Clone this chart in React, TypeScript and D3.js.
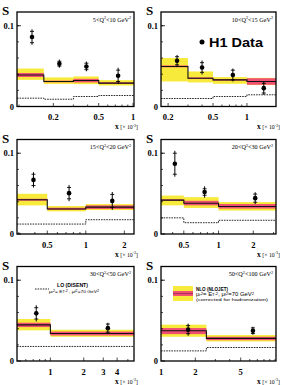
import * as d3 from 'd3'

// Q^2 ranges of the six panels
const qLo = [5, 10, 15, 20, 30, 50]
const qHi = [10, 15, 20, 30, 50, 100]

// x range [x 10^-3] shown in each panel, tick labels and bin edges
const xDomains = [[0.096, 1.02], [0.173, 1.81], [0.29, 2.38], [0.317, 3.15], [0.5, 5.68], [1, 10.2]]
const xTicks = [[0.2, 0.5, 1], [0.2, 0.5, 1], [0.5, 1, 2], [0.5, 1, 2], [1, 2, 3, 4], [1, 2, 5]]
const binEdges = [
  [0.096, 0.165, 0.3, 0.5, 1.02],
  [0.173, 0.3, 0.5, 1, 1.81],
  [0.29, 0.5, 1, 2.38],
  [0.317, 0.5, 1, 3.15],
  [0.5, 1, 5.68],
  [1, 2.5, 10.2],
]

// H1 data
const dataX = [[0.13, 0.226, 0.39, 0.74], [0.24, 0.4, 0.75, 1.41], [0.39, 0.74, 1.61], [0.418, 0.757, 2.08], [0.746, 3.3], [1.73, 6.4]]
const dataS = [[0.086, 0.053, 0.0496, 0.038], [0.0566, 0.0483, 0.039, 0.0227], [0.067, 0.0506, 0.041], [0.087, 0.052, 0.0444], [0.059, 0.0407], [0.0388, 0.0375]]
const dataTot = [[0.0095, 0.005, 0.006, 0.01], [0.0072, 0.0087, 0.008, 0.0083], [0.0095, 0.01, 0.011], [0.016, 0.007, 0.0073], [0.01, 0.0067], [0.0075, 0.005]]
const dataStat = [[0.007, 0.003, 0.004, 0.007], [0.005, 0.006, 0.006, 0.006], [0.007, 0.007, 0.008], [0.013, 0.004, 0.005], [0.007, 0.005], [0.005, 0.0035]]

// NLO (NLOJET) central, scale band (yellow), hadronisation band (red)
const nlo = [[0.039, 0.031, 0.0322, 0.0289], [0.0496, 0.035, 0.033, 0.031], [0.0424, 0.031, 0.0333], [0.042, 0.038, 0.034], [0.0447, 0.034], [0.0375, 0.028]]
const scaleLo = [[0.033, 0.028, 0.0277, 0.026], [0.031, 0.0298, 0.0281, 0.0265], [0.0354, 0.028, 0.0296], [0.0355, 0.0323, 0.029], [0.038, 0.03], [0.03, 0.0242]]
const scaleHi = [[0.047, 0.036, 0.0372, 0.0326], [0.06, 0.0434, 0.0364, 0.0355], [0.0498, 0.0346, 0.037], [0.0476, 0.0456, 0.0395], [0.052, 0.0387], [0.045, 0.0321]]
const hadLo = [[0.0365, 0.03, 0.0298, 0.028], [0.0485, 0.034, 0.032, 0.0269], [0.0412, 0.03, 0.031], [0.041, 0.0355, 0.0315], [0.042, 0.0316], [0.0333, 0.0258]]
const hadHi = [[0.0415, 0.032, 0.0343, 0.03], [0.0508, 0.036, 0.034, 0.035], [0.0436, 0.0325, 0.0354], [0.043, 0.0411, 0.0371], [0.0474, 0.0364], [0.0408, 0.03]]

// LO (DISENT)
const lo = [[0.0103, 0.009, 0.0124, 0.0136], [0.0099, 0.0099, 0.0124, 0.0145], [0.0123, 0.0123, 0.0177], [0.02, 0.014, 0.017], [0.018, 0.018], [0.0125, 0.0167]]

const yTicksMajor = [0, 0.1]
const yDomain = [0, 0.117]

const YELLOW = '#f7ea3b'
const RED = '#ef4f72'
const SERIF = '"Liberation Serif", "DejaVu Serif", serif'
const SANS = '"Liberation Sans", Arial, sans-serif'

const colX = [[17, 134], [161, 276]]
const rowZero = [106.5, 234, 361]
const plotH = 94.5

function stepPath(xs: d3.ScaleLogarithmic<number, number>, ys: d3.ScaleLinear<number, number>, edges: number[], vals: number[]) {
  let p = ''
  vals.forEach((v, i) => {
    const x0 = xs(edges[i]), x1 = xs(edges[i + 1]), y = ys(v)
    p += i === 0 ? `M${x0},${y}` : `L${x0},${y}`
    p += `L${x1},${y}`
  })
  return p
}

function Panel({ i }: { i: number }) {
  const [x0, x1] = colX[i % 2]
  const zero = rowZero[Math.floor(i / 2)]
  const top = zero - plotH
  const x = d3.scaleLog().domain(xDomains[i]).range([x0, x1])
  const y = d3.scaleLinear().domain(yDomain).range([zero, top])
  const edges = binEdges[i]

  const [d0, d1] = xDomains[i]
  const minor: number[] = []
  for (let k = Math.floor(Math.log10(d0)); k <= Math.ceil(Math.log10(d1)); k++) {
    for (let m = 1; m < 10; m++) {
      const v = m * Math.pow(10, k)
      if (v > d0 && v < d1) minor.push(v)
    }
  }
  const yMinor = d3.range(0.02, 0.117, 0.02)

  return (
    <g>
      {/* bands */}
      {nlo[i].map((_, b) => (
        <rect key={'y' + b} x={x(edges[b])} width={x(edges[b + 1]) - x(edges[b])}
          y={y(scaleHi[i][b])} height={y(scaleLo[i][b]) - y(scaleHi[i][b])} fill={YELLOW} />
      ))}
      {nlo[i].map((_, b) => (
        <rect key={'r' + b} x={x(edges[b])} width={x(edges[b + 1]) - x(edges[b])}
          y={y(hadHi[i][b])} height={y(hadLo[i][b]) - y(hadHi[i][b])} fill={RED} />
      ))}
      <path d={stepPath(x, y, edges, nlo[i])} fill="none" stroke="#111" strokeWidth={1.1} />
      <path d={stepPath(x, y, edges, lo[i])} fill="none" stroke="#111" strokeWidth={0.9} strokeDasharray="1.6,1" />

      {/* data */}
      {dataX[i].map((dx, k) => {
        const cx = x(dx)
        const s = dataS[i][k]
        return (
          <g key={'d' + k} stroke="#000">
            <line x1={cx} x2={cx} y1={y(s - dataTot[i][k])} y2={y(s + dataTot[i][k])} strokeWidth={1} />
            <line x1={cx - 2} x2={cx + 2} y1={y(s + dataStat[i][k])} y2={y(s + dataStat[i][k])} strokeWidth={0.9} />
            <line x1={cx - 2} x2={cx + 2} y1={y(s - dataStat[i][k])} y2={y(s - dataStat[i][k])} strokeWidth={0.9} />
            <circle cx={cx} cy={y(s)} r={2.3} fill="#000" stroke="none" />
          </g>
        )
      })}

      {/* frame + ticks */}
      <rect x={x0} y={top} width={x1 - x0} height={plotH} fill="none" stroke="#000" strokeWidth={1.3} />
      {minor.map(v => (
        <line key={'mx' + v} x1={x(v)} x2={x(v)} y1={zero} y2={zero - (xTicks[i].includes(v) ? 3.5 : 2)} stroke="#000" strokeWidth={0.7} />
      ))}
      {yMinor.map(v => (
        <line key={'my' + v} x1={x0} x2={x0 + 2} y1={y(v)} y2={y(v)} stroke="#000" strokeWidth={0.7} />
      ))}
      {yTicksMajor.map(v => (
        <g key={'Y' + v}>
          <line x1={x0} x2={x0 + 4} y1={y(v)} y2={y(v)} stroke="#000" strokeWidth={0.8} />
          <text x={x0 - 3} y={y(v) + 3} textAnchor="end" fontFamily={SERIF} fontWeight="bold" fontSize={8.5}>{v === 0 ? '0' : '0.1'}</text>
        </g>
      ))}
      {xTicks[i].map(v => (
        <text key={'X' + v} x={x(v)} y={zero + 13.5} textAnchor="middle" fontFamily={SERIF} fontWeight="bold" fontSize={8.5}>{v}</text>
      ))}
      <text x={x1 + 4} y={zero + 22.5} textAnchor="end" fontFamily={SERIF} fontSize={5.8}>
        <tspan fontWeight="bold" fontSize={7.5}>x</tspan> [× 10<tspan dy={-2.5} fontSize={4}>-3</tspan><tspan dy={2.5}>]</tspan>
      </text>
      <text x={x0 - 15} y={top + 3} fontFamily={SERIF} fontWeight="bold" fontSize={13}>S</text>
      <text x={x1 - 3} y={top + 9.5} textAnchor="end" fontFamily={SERIF} fontSize={6.2}>
        {qLo[i]}&lt;Q<tspan dy={-2.5} fontSize={4.2}>2</tspan><tspan dy={2.5}>&lt;{qHi[i]} GeV</tspan><tspan dy={-2.5} fontSize={4.2}>2</tspan>
      </text>
    </g>
  )
}

export default function App() {
  return (
    <svg width={283} height={385} style={{ position: 'absolute', left: 0, top: 0, background: '#fff' }}>
      {d3.range(6).map(i => <Panel key={i} i={i} />)}

      {/* H1 data legend */}
      <circle cx={202} cy={42} r={2.5} fill="#000" />
      <text x={209} y={46.5} fontFamily={SANS} fontWeight="bold" fontSize={12} textLength={54} lengthAdjust="spacingAndGlyphs">H1 Data</text>

      {/* LO legend */}
      <line x1={35} x2={49} y1={289} y2={289} stroke="#111" strokeWidth={0.9} strokeDasharray="1.6,1" />
      <text x={57} y={286.5} fontFamily={SANS} fontWeight="bold" fontSize={6} textLength={31} lengthAdjust="spacingAndGlyphs">LO (DISENT)</text>
      <text x={49} y={293} fontFamily={SANS} fontSize={4} textLength={50} lengthAdjust="spacingAndGlyphs">
        μ<tspan fontSize={3}>r</tspan><tspan dy={-1.5} fontSize={3}>2</tspan><tspan dy={1.5}>= E</tspan><tspan fontSize={3}>T</tspan><tspan dy={-1.5} fontSize={3}>-2</tspan><tspan dy={1.5}> , μ</tspan><tspan fontSize={3}>f</tspan><tspan dy={-1.5} fontSize={3}>2</tspan><tspan dy={1.5}>=70 GeV</tspan><tspan dy={-1.5} fontSize={3}>2</tspan>
      </text>

      {/* NLO legend */}
      <rect x={173} y={286} width={20} height={15} fill={YELLOW} />
      <rect x={173} y={291} width={20} height={5} fill={RED} />
      <line x1={173} x2={193} y1={293.5} y2={293.5} stroke="#7a1d3a" strokeWidth={0.6} />
      <text x={196} y={290.5} fontFamily={SANS} fontWeight="bold" fontSize={6} textLength={32} lengthAdjust="spacingAndGlyphs">NLO (NLOJET)</text>
      <text x={196} y={296} fontFamily={SANS} fontSize={4.5} textLength={58} lengthAdjust="spacingAndGlyphs">
        μ<tspan fontSize={3.2}>r</tspan><tspan dy={-1.5} fontSize={3.2}>2</tspan><tspan dy={1.5}>= E</tspan><tspan fontSize={3.2}>T</tspan><tspan dy={-1.5} fontSize={3.2}>-2</tspan><tspan dy={1.5}>, μ</tspan><tspan fontSize={3.2}>f</tspan><tspan dy={-1.5} fontSize={3.2}>2</tspan><tspan dy={1.5}>=70 GeV</tspan><tspan dy={-1.5} fontSize={3.2}>2</tspan>
      </text>
      <text x={196} y={301} fontFamily={SANS} fontSize={4.3} textLength={72} lengthAdjust="spacingAndGlyphs">(corrected for hadronization)</text>
    </svg>
  )
}
